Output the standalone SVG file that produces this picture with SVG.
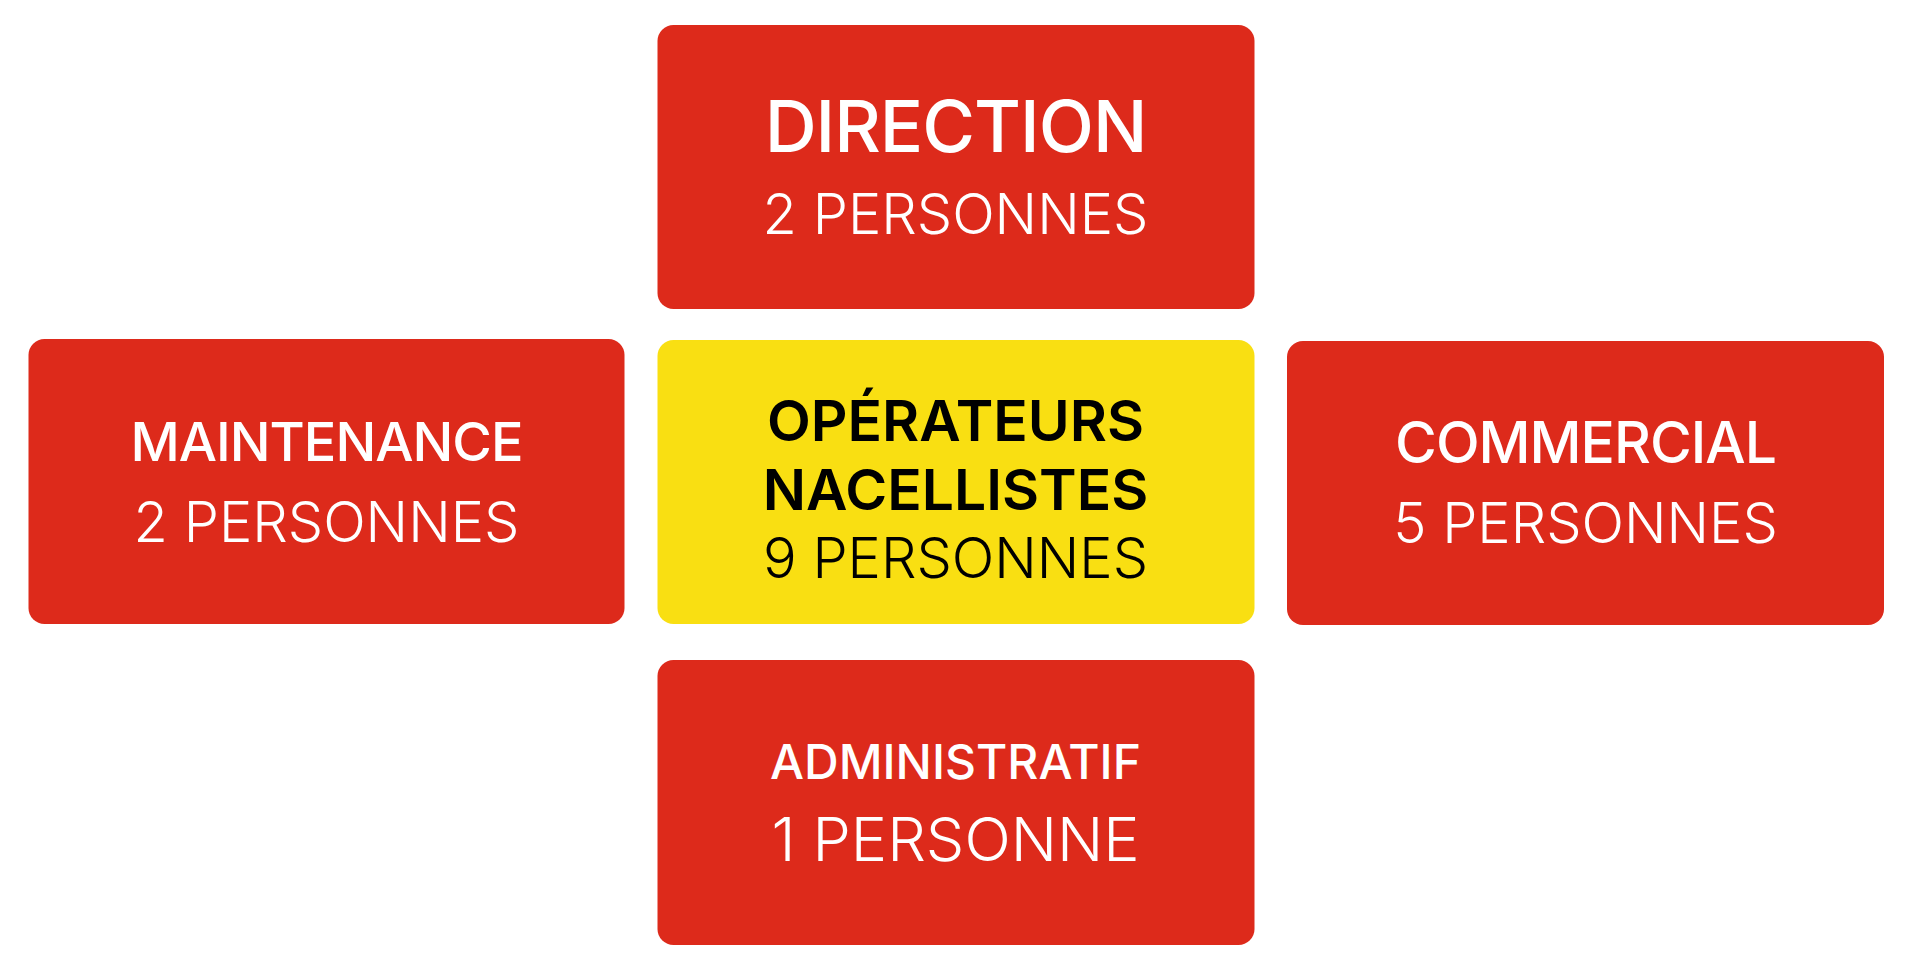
<svg xmlns="http://www.w3.org/2000/svg" width="1912" height="970" viewBox="0 0 1912 970">
<style>
.box{fill:#DD2A1B}
.yel{fill:#F9DF12}
text{font-family:Inter,"Noto Sans",sans-serif;text-anchor:middle}
.t{font-weight:500;fill:#fff;letter-spacing:-1px}
.s{font-weight:300;fill:#fff}
.tk{font-weight:600;fill:#000}
.sk{font-weight:300;fill:#000}
</style>
<rect width="1912" height="970" fill="#fff"/>
<g id="connectors"></g>
<g id="direction">
<rect class="box" x="657.5" y="25" width="597" height="284" rx="16"/>
<text class="t" x="955.5" y="152" font-size="72">DIRECTION</text>
<text class="s" x="955.5" y="234" font-size="56">2 PERSONNES</text>
</g>
<g id="maintenance">
<rect class="box" x="28.5" y="339" width="596" height="285" rx="16"/>
<text class="t" x="326.5" y="461" font-size="54">MAINTENANCE</text>
<text class="s" x="326.5" y="542" font-size="56">2 PERSONNES</text>
</g>
<g id="operateurs">
<rect class="yel" x="657.5" y="340" width="597" height="284" rx="16"/>
<text class="tk" x="955.5" y="441" font-size="57">OPÉRATEURS</text>
<text class="tk" x="955.5" y="510" font-size="57">NACELLISTES</text>
<text class="sk" x="955.5" y="578" font-size="56">9 PERSONNES</text>
</g>
<g id="commercial">
<rect class="box" x="1287" y="341" width="597" height="284" rx="16"/>
<text class="t" x="1585.5" y="463" font-size="57">COMMERCIAL</text>
<text class="s" x="1585.5" y="543" font-size="56">5 PERSONNES</text>
</g>
<g id="administratif">
<rect class="box" x="657.5" y="660" width="597" height="285" rx="16"/>
<text class="t" x="955.5" y="779" font-size="48" style="letter-spacing:0">ADMINISTRATIF</text>
<text class="s" x="955.5" y="861" font-size="61">1 PERSONNE</text>
</g>
</svg>
